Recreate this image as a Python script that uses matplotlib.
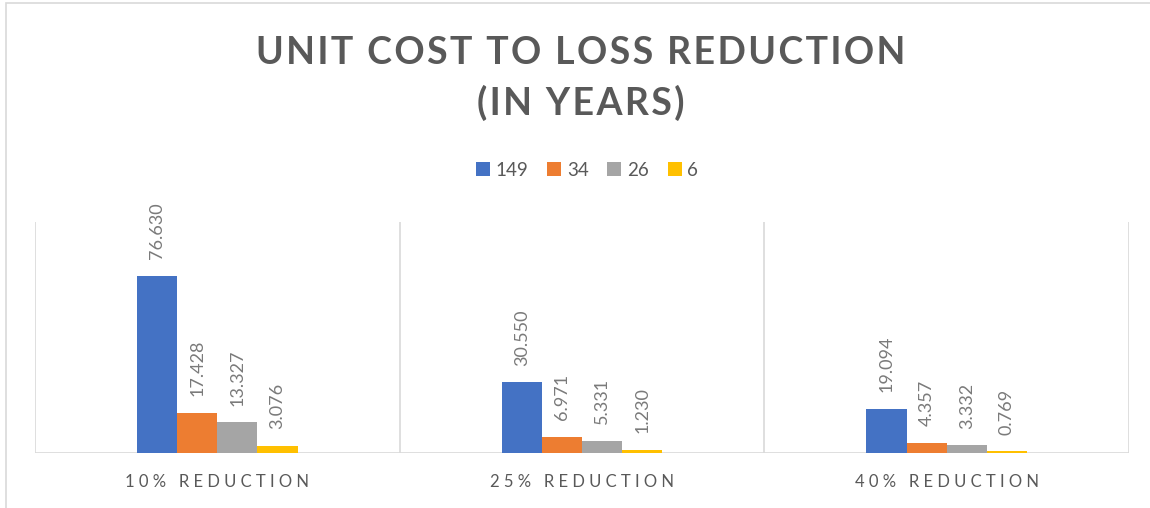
import numpy as np
import matplotlib.pyplot as plt
from matplotlib.patches import Rectangle
from matplotlib.transforms import blended_transform_factory

plt.rcParams['font.family'] = ['Lato', 'DejaVu Sans']

categories = ['10% REDUCTION', '25% REDUCTION', '40% REDUCTION']
series_names = ['149', '34', '26', '6']
values_149 = [76.630, 30.550, 19.094]
values_34 = [17.428, 6.971, 4.357]
values_26 = [13.327, 5.331, 3.332]
values_6 = [3.076, 1.230, 0.769]
all_values = [values_149, values_34, values_26, values_6]
colors = ['#4472C4', '#ED7D31', '#A5A5A5', '#FFC000']

fig = plt.figure(figsize=(11.5, 5.08), dpi=100)
ax = fig.add_axes([35 / 1150, 1 - 453 / 508, 1094 / 1150, 231 / 508])

x = np.arange(len(categories))
width = 0.11
for i, (vals, name, col) in enumerate(zip(all_values, series_names, colors)):
    pos = x + (i - 1.5) * width
    ax.bar(pos, vals, width, color=col, label=name)
    for px, v in zip(pos, vals):
        ax.annotate(f'{v:.3f}', (px, v), xytext=(0, 12), textcoords='offset points',
                    rotation=90, ha='center', va='bottom', fontsize=13, color='#7a7a7a')

ax.set_xlim(-0.5, 2.5)
ax.set_ylim(0, 100)
for s in ax.spines.values():
    s.set_visible(False)
ax.set_xticks([])
ax.set_yticks([])
ax.axhline(0, color='#d9d9d9', lw=1.2, zorder=0)
for b in [-0.5, 0.5, 1.5, 2.5]:
    ax.plot([b, b], [0, 100], color='#d9d9d9', lw=1.2, zorder=0)

# category labels, spaced out like the original
tr = blended_transform_factory(ax.transData, fig.transFigure)
for xi, c in zip(x, categories):
    fig.text(xi, 1 - 487 / 508, ' '.join(c), transform=tr, ha='center', va='baseline',
             fontsize=12, color='#595959')

# title with a little letter spacing (hair spaces)
hs = '\u200a'
title1 = hs.join('UNIT COST TO LOSS REDUCTION')
title2 = hs.join('(IN YEARS)')
fig.text(0.505, 1 - 64 / 508, title1, ha='center', va='baseline',
         fontsize=27, fontweight='bold', color='#595959')
fig.text(0.505, 1 - 115 / 508, title2, ha='center', va='baseline',
         fontsize=27, fontweight='bold', color='#595959')

fig.legend(loc='center', bbox_to_anchor=(587 / 1150, 1 - 170 / 508), ncol=4, frameon=False,
           fontsize=13.5, handlelength=0.75, handleheight=0.75, handletextpad=0.3,
           columnspacing=1.0, labelcolor='#595959')

fig.patches.append(Rectangle((6 / 1150, -0.1), 1.2, 0.1 + 1 - 3 / 508, transform=fig.transFigure,
                             fill=False, edgecolor='#d9d9d9', lw=1.2))

plt.savefig('out.png', dpi=100)
